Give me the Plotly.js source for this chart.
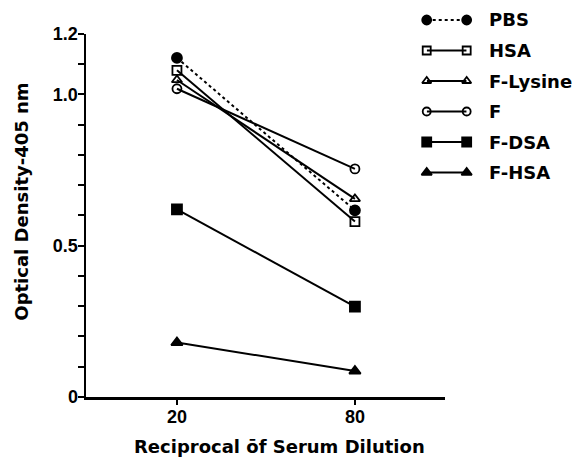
<!DOCTYPE html>
<html>
<head>
<meta charset="utf-8">
<script src="https://cdn.plot.ly/plotly-3.0.1.min.js"></script>
<style>
  html, body { margin: 0; padding: 0; background: #fff; }
  #chart { width: 580px; height: 459px; }
</style>
</head>
<body>
<div id="chart"></div>
<script>
// Data
const dilutions = ['20', '80'];
const seriesNames = ['PBS', 'HSA', 'F-Lysine', 'F', 'F-DSA', 'F-HSA'];
const pbs      = [1.121, 0.617];
const hsa      = [1.080, 0.580];
const fLysine  = [1.048, 0.655];
const fOnly    = [1.019, 0.754];
const fDsa     = [0.620, 0.299];
const fHsa     = [0.180, 0.086];
const yTickVals = [0, 0.5, 1.0, 1.2];
const yTickText = ['0', '0.5', '1.0', '1.2'];
const xTitle = 'Reciprocal ōf Serum Dilution';
const yTitle = 'Optical Density-405 nm';

const seriesValues = [pbs, hsa, fLysine, fOnly, fDsa, fHsa];
const styles = [
  {symbol: 'circle', size: 10, dash: 'dot'},
  {symbol: 'square-open', size: 9, dash: 'solid'},
  {symbol: 'triangle-up-open', size: 9, dash: 'solid'},
  {symbol: 'circle-open', size: 9, dash: 'solid'},
  {symbol: 'square', size: 10, dash: 'solid'},
  {symbol: 'triangle-up', size: 10, dash: 'solid'}
];

const FONT = {family: 'DejaVu Sans', size: 18, color: '#000', weight: 'bold'};
const TICKFONT = {family: 'Liberation Sans', size: 18, color: '#000', weight: 'bold'};

const traces = [];
seriesNames.forEach((name, i) => {
  const st = styles[i];
  traces.push({
    x: dilutions, y: seriesValues[i], name: name,
    type: 'scatter', mode: 'lines+markers',
    line: {color: '#000', width: 2, dash: st.dash},
    marker: {symbol: st.symbol, size: st.size, color: '#000', line: {color: '#000', width: 1.8}},
    cliponaxis: false, showlegend: false, xaxis: 'x', yaxis: 'y'
  });
});

// custom legend drawn on an overlay axis: two markers joined by a line per series
const annotations = [];
seriesNames.forEach((name, i) => {
  const st = styles[i];
  traces.push({
    x: [0, 1], y: [i, i], name: name,
    type: 'scatter', mode: 'lines+markers',
    line: {color: '#000', width: 2, dash: st.dash},
    marker: {symbol: st.symbol, size: st.size - 1, color: '#000', line: {color: '#000', width: 1.8}},
    cliponaxis: false, showlegend: false, hoverinfo: 'skip', xaxis: 'x2', yaxis: 'y2'
  });
  annotations.push({
    xref: 'paper', yref: 'y2', x: 0.8117, y: i, text: name, showarrow: false,
    xanchor: 'left', yanchor: 'middle', font: FONT
  });
});

annotations.push({
  xref: 'paper', yref: 'paper', x: 0.3927, y: -0.127, text: xTitle, showarrow: false,
  xanchor: 'center', yanchor: 'middle', font: FONT
});
annotations.push({
  xref: 'paper', yref: 'paper', x: -0.1302, y: 0.4962, text: yTitle, showarrow: false,
  textangle: -90, xanchor: 'center', yanchor: 'middle', font: FONT
});

const layout = {
  width: 580, height: 459,
  margin: {l: 86, r: 0, t: 4, b: 62},
  paper_bgcolor: '#fff', plot_bgcolor: '#fff',
  showlegend: false,
  font: FONT,
  xaxis: {
    type: 'category', domain: [0, 0.7267], range: [-0.511, 1.506],
    showgrid: false, zeroline: false, showline: true, linecolor: '#000', linewidth: 2.5,
    ticks: 'outside', ticklen: 5, tickwidth: 2, tickcolor: '#000',
    tickfont: TICKFONT, ticklabelstandoff: -3,
    fixedrange: true
  },
  yaxis: {
    domain: [0, 0.9237], range: [0, 1.2],
    showgrid: false, zeroline: false, showline: true, linecolor: '#000', linewidth: 2.5,
    tickmode: 'array', tickvals: yTickVals, ticktext: yTickText,
    ticks: 'outside', ticklen: 6, tickwidth: 2, tickcolor: '#000',
    minor: {dtick: 0.1, tick0: 0, ticks: 'outside', ticklen: 6, tickwidth: 2, tickcolor: '#000', showgrid: false},
    tickfont: TICKFONT, ticklabelstandoff: -4,
    fixedrange: true
  },
  xaxis2: {
    domain: [0.6897, 0.7706], range: [0, 1], anchor: 'y2',
    visible: false, fixedrange: true
  },
  yaxis2: {
    domain: [0.5324, 0.9981], range: [5.5, -0.5], anchor: 'x2',
    visible: false, fixedrange: true
  },
  annotations: annotations
};

Plotly.newPlot('chart', traces, layout, {displayModeBar: false, staticPlot: true});
</script>
</body>
</html>
